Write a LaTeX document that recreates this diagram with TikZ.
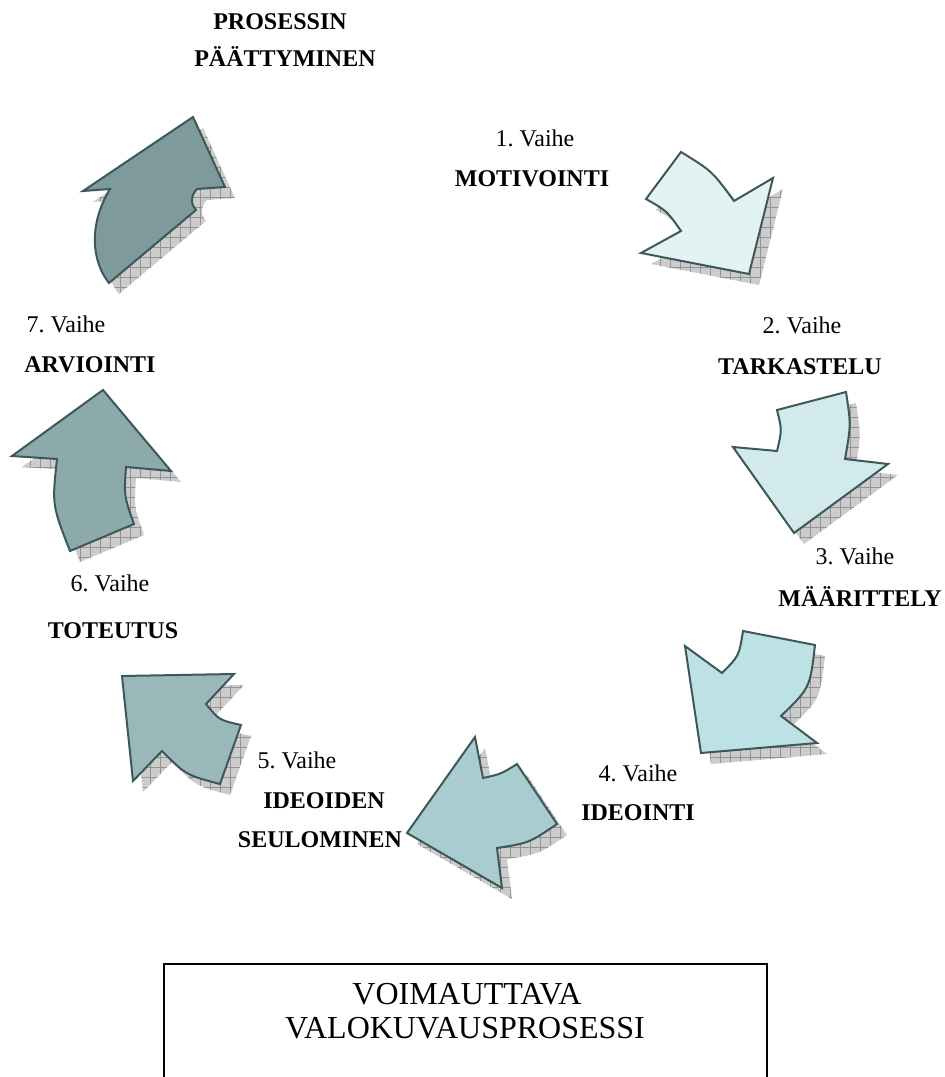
\documentclass[tikz,border=0pt]{standalone}
\usepackage{fontspec}
\setmainfont{Liberation Serif}
\usetikzlibrary{patterns.meta}
\frenchspacing
\definecolor{edgec}{HTML}{3E5758}
\definecolor{cA}{HTML}{E3F3F3}
\definecolor{cB}{HTML}{D2EAEB}
\definecolor{cC}{HTML}{BCE2E5}
\definecolor{cD}{HTML}{A8CCCF}
\definecolor{cE}{HTML}{9AB8B9}
\definecolor{cF}{HTML}{8CA9AB}
\definecolor{cG}{HTML}{7E9A9C}
\tikzset{
  arrowbody/.style={draw=edgec, line width=1.5pt, line join=miter},
  shadowfill/.style={fill=gray!40, draw=none},
  shadowgrid/.style={pattern={Hatch[angle=0,distance=7.5pt,line width=0.45pt]}, pattern color=gray!85},
  stagetxt/.style={font=\fontsize{18}{21}\selectfont, inner sep=0pt},
  stagebold/.style={font=\fontsize{18}{21}\selectfont\bfseries, inner sep=0pt},
  titletxt/.style={font=\fontsize{24}{28}\selectfont, inner sep=0pt},
  boxline/.style={draw=black, line width=1.2pt},
}
\newcommand{\arrA}{(681,152) .. controls (712,171) .. (734,201) -- (773,178) -- (749,274) -- (641,253) -- (681,231) .. controls (667,211) .. (646,199) -- cycle}
\newcommand{\arrB}{(777,410) -- (846,392) .. controls (851,425) .. (845,459) -- (888,464) -- (794,533) -- (733,447) -- (777,451) .. controls (782,430) .. (777,410) -- cycle}
\newcommand{\arrC}{(743,631) -- (815,645) .. controls (810,688) .. (781,716) -- (817,743) -- (701,753) -- (685,646) -- (722,673) .. controls (739,656) .. (743,631) -- cycle}
\newcommand{\arrD}{(517,764) -- (557,824) .. controls (529,843) .. (497,848) -- (502,888) -- (407,833) -- (475,737) -- (483,778) .. controls (501,774) .. (517,764) -- cycle}
\newcommand{\arrE}{(122,676) -- (234,674) -- (206,704) .. controls (219,720) .. (241,725) -- (220,784) .. controls (186,775) .. (162,751) -- (133,781) -- cycle}
\newcommand{\arrF}{(103,390) -- (171,471) -- (126,467) .. controls (124,496) .. (134,524) -- (70,551) .. controls (52,505) .. (57,459) -- (12,456) -- cycle}
\newcommand{\arrG}{(193,117) -- (225,187) -- (197,189) .. controls (190,196) and (191,205) .. (196,210) -- (109,283) .. controls (92,262) and (88,225) .. (110,189) -- (83,191) -- cycle}
\begin{document}
\begin{tikzpicture}[x=0.75pt,y=-0.75pt]
\useasboundingbox (0,0) rectangle (945,1077);
% shadows
\foreach \p in {\arrA,\arrB,\arrC,\arrD,\arrE,\arrF,\arrG}{
  \fill[shadowfill, shift={(10,11)}] \p;
  \fill[shadowgrid, shift={(10,11)}] \p;
}
% arrows
\filldraw[arrowbody, fill=cA] \arrA;
\filldraw[arrowbody, fill=cB] \arrB;
\filldraw[arrowbody, fill=cC] \arrC;
\filldraw[arrowbody, fill=cD] \arrD;
\filldraw[arrowbody, fill=cE] \arrE;
\filldraw[arrowbody, fill=cF] \arrF;
\filldraw[arrowbody, fill=cG] \arrG;
% labels
\node[stagebold] (endA) at (280,22) {PROSESSIN};
\node[stagebold] (endB) at (285,57) {PÄÄTTYMINEN};
\node[stagetxt] (s1a) at (535,138) {1. Vaihe};
\node[stagebold] (s1b) at (532,179) {MOTIVOINTI};
\node[stagetxt] (s2a) at (802,325) {2. Vaihe};
\node[stagebold] (s2b) at (800,367) {TARKASTELU};
\node[stagetxt] (s3a) at (855,556) {3. Vaihe};
\node[stagebold] (s3b) at (860,597) {MÄÄRITTELY};
\node[stagetxt] (s4a) at (638,773) {4. Vaihe};
\node[stagebold] (s4b) at (638,813) {IDEOINTI};
\node[stagetxt] (s5a) at (297,760) {5. Vaihe};
\node[stagebold] (s5b) at (324,801) {IDEOIDEN};
\node[stagebold] (s5c) at (320,840) {SEULOMINEN};
\node[stagetxt] (s6a) at (110,583) {6. Vaihe};
\node[stagebold] (s6b) at (113,631) {TOTEUTUS};
\node[stagetxt] (s7a) at (66,324) {7. Vaihe};
\node[stagebold] (s7b) at (90,365) {ARVIOINTI};
% title box
\draw[boxline] (164,1080) -- (164,964) -- (767,964) -- (767,1080);
\node[titletxt] (t1) at (467,994) {VOIMAUTTAVA};
\node[titletxt] (t2) at (465,1028) {VALOKUVAUSPROSESSI};
\end{tikzpicture}
\end{document}
